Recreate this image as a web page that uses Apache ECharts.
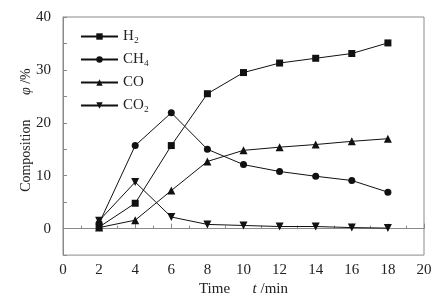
<!DOCTYPE html>
<html>
<head>
<meta charset="utf-8">
<script src="https://cdn.jsdelivr.net/npm/echarts@6/dist/echarts.min.js"></script>
<style>
  html, body { margin: 0; padding: 0; background: #fff; }
  #chart { width: 437px; height: 302px; }
</style>
</head>
<body>
<div id="chart"></div>
<script>
// time t /min
var times = [2, 4, 6, 8, 10, 12, 14, 16, 18];
// composition φ /%
var h2 = [0.3, 4.8, 15.7, 25.5, 29.5, 31.3, 32.2, 33.1, 35.1];
var ch4 = [1.0, 15.7, 21.9, 15.0, 12.1, 10.8, 9.9, 9.1, 6.9];
var co = [0.2, 1.6, 7.2, 12.7, 14.8, 15.4, 15.9, 16.5, 17.0];
var co2 = [1.5, 8.8, 2.2, 0.8, 0.6, 0.4, 0.4, 0.2, 0.1];
var seriesNames = ['H₂', 'CH₄', 'CO', 'CO₂'];

var font = 'Liberation Serif';
var axisColor = '#8a8a8a';

function pairs(vals) {
  return times.map(function (t, i) { return [t, vals[i]]; });
}

function lineSeries(name, vals, symbol, size, rotate) {
  return {
    name: name,
    type: 'line',
    data: pairs(vals),
    symbol: symbol,
    symbolSize: size,
    symbolRotate: rotate || 0,
    lineStyle: { color: '#111', width: 1 },
    itemStyle: { color: '#111' }
  };
}

var chart = echarts.init(document.getElementById('chart'));
chart.setOption({
  animation: false,
  textStyle: { fontFamily: font },
  grid: {
    left: 63, right: 13, top: 17, bottom: 46,
    show: true, borderColor: axisColor, borderWidth: 1
  },
  legend: {
    orient: 'vertical',
    left: 75, top: 24,
    itemWidth: 37, itemHeight: 8, itemGap: 8,
    textStyle: { fontFamily: font, fontSize: 15, color: '#222' },
    data: seriesNames
  },
  xAxis: {
    type: 'value',
    min: 0, max: 20, interval: 2,
    name: 'Time      {i|t} /min',
    nameLocation: 'middle',
    nameGap: 26,
    nameTextStyle: {
      fontFamily: font, fontSize: 15, color: '#222',
      rich: { i: { fontStyle: 'italic', fontFamily: font, fontSize: 15, color: '#222' } }
    },
    axisLine: { lineStyle: { color: axisColor } },
    axisTick: { inside: true, length: 5, lineStyle: { color: axisColor } },
    minorTick: { show: true, splitNumber: 2, length: 3, lineStyle: { color: axisColor } },
    axisLabel: { fontFamily: font, fontSize: 15, color: '#222', margin: 7 },
    splitLine: { show: false }
  },
  yAxis: {
    type: 'value',
    min: -5, max: 40, interval: 5,
    name: 'Composition       {i|φ} /%',
    nameLocation: 'middle',
    nameGap: 30,
    nameMoveOverlap: false,
    nameTextStyle: {
      fontFamily: font, fontSize: 14, color: '#222',
      padding: [0, 0, 0, 12],
      rich: { i: { fontStyle: 'italic', fontFamily: font, fontSize: 14, color: '#222' } }
    },
    axisLine: { lineStyle: { color: axisColor } },
    axisTick: { inside: true, length: 4, lineStyle: { color: axisColor } },
    axisLabel: {
      fontFamily: font, fontSize: 15, color: '#222', margin: 12,
      formatter: function (v) { return v % 10 === 0 ? String(v) : ''; }
    },
    splitLine: { show: false }
  },
  series: [
    lineSeries(seriesNames[0], h2, 'rect', 7),
    lineSeries(seriesNames[1], ch4, 'circle', 7),
    lineSeries(seriesNames[2], co, 'triangle', 8),
    lineSeries(seriesNames[3], co2, 'triangle', 8, 180)
  ]
});
</script>
</body>
</html>
